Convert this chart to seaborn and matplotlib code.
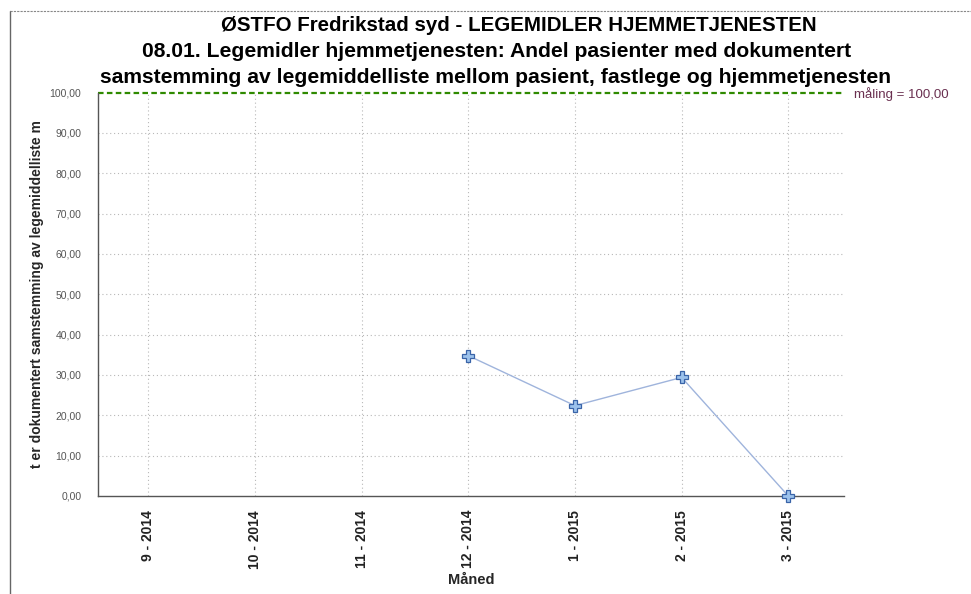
import numpy as np
import pandas as pd
import seaborn as sns
import matplotlib.pyplot as plt
from matplotlib.lines import Line2D

sns.set_theme(style="white")
plt.rcParams['font.family'] = ['Liberation Sans', 'DejaVu Sans']
plt.rcParams['text.color'] = 'black'

# Monthly share of patients with documented medication list reconciliation
months = ["9 - 2014", "10 - 2014", "11 - 2014", "12 - 2014", "1 - 2015", "2 - 2015", "3 - 2015"]
andel = [np.nan, np.nan, np.nan, 34.8, 22.4, 29.4, 0.0]
maal = 100.0
y_ticks = [0, 10, 20, 30, 40, 50, 60, 70, 80, 90, 100]

df = pd.DataFrame({"Måned": months, "Andel": andel})
df["pos"] = range(len(months))

fig = plt.figure(figsize=(9.71, 5.94), dpi=100)
ax = fig.add_axes([0.101, 0.165, 0.768, 0.679])

# Dotted background grid
for yt in y_ticks[1:-1]:
    ax.axhline(yt, color="#b8b8b8", lw=0.8, ls=(0, (1, 2.5)), zorder=0)
for xp in df["pos"]:
    ax.axvline(xp, color="#b8b8b8", lw=0.8, ls=(0, (1, 2.5)), zorder=0)

sub = df.dropna()
sns.lineplot(data=sub, x="pos", y="Andel", ax=ax, color="#9fb4dc", lw=1.0,
             marker="P", markersize=9, markerfacecolor="#9cc2ec",
             markeredgecolor="#3a64a8", markeredgewidth=0.9, zorder=3, clip_on=False)

# Target line
ax.axhline(maal, color="#2f8a00", lw=1.6, ls=(0, (2.5, 1.5)), zorder=2, clip_on=False)
ax.text(1.014, maal - 0.4, "måling = " + f"{maal:.2f}".replace(".", ","), transform=ax.get_yaxis_transform(),
        color="#6a3050", fontsize=9.5, va="center", ha="left", clip_on=False)

ax.set_xlim(-0.47, 6.52)
ax.set_ylim(0, 100)
ax.set_yticks(y_ticks)
ax.set_yticklabels([f"{v:.2f}".replace(".", ",") for v in y_ticks], fontsize=7.5, color="#555555")
ax.set_xticks(df["pos"])
ax.set_xticklabels(months, rotation=90, fontsize=10, fontweight="bold", color="#222222",
                   family=["Liberation Sans Narrow", "Liberation Sans"])
ax.tick_params(axis="x", length=0, pad=10)
ax.tick_params(axis="y", length=0, pad=12)

for s in ["top", "right"]:
    ax.spines[s].set_visible(False)
for s in ["left", "bottom"]:
    ax.spines[s].set_color("#555555")
    ax.spines[s].set_linewidth(1.0)

ax.set_xlabel("Måned", fontsize=10.5, fontweight="bold", labelpad=3)
ax.set_ylabel("t er dokumentert samstemming av legemiddelliste m", fontsize=10,
              fontweight="bold", labelpad=4)

title_kw = dict(ha="center", va="center", fontsize=15.2, fontweight="bold", color="black")
fig.text(0.534, 0.957, "ØSTFO Fredrikstad syd - LEGEMIDLER HJEMMETJENESTEN", fontsize=14.8,
         **{k: v for k, v in title_kw.items() if k != "fontsize"})
fig.text(0.511, 0.913, "08.01. Legemidler hjemmetjenesten: Andel pasienter med dokumentert", **title_kw)
fig.text(0.510, 0.869, "samstemming av legemiddelliste mellom pasient, fastlege og hjemmetjenesten", **title_kw)

# Outer frame
fig.add_artist(Line2D([0.0103, 0.0103], [0.0, 0.981], transform=fig.transFigure, color="#666666", lw=1.0))
fig.add_artist(Line2D([0.0103, 1.0], [0.981, 0.981], transform=fig.transFigure, color="#888888", lw=0.8, ls=(0, (2, 1))))

fig.savefig("out.png", dpi=100)
